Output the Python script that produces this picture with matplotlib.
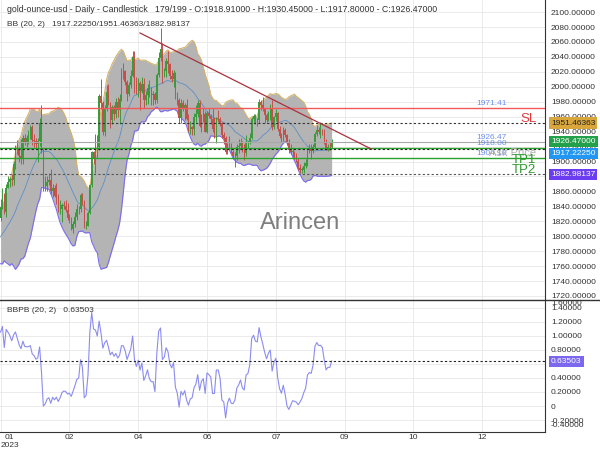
import numpy as np
import pandas as pd
import matplotlib
matplotlib.use("Agg")
import matplotlib.pyplot as plt
from matplotlib.lines import Line2D
from matplotlib.ticker import FuncFormatter

plt.rcParams['font.family'] = ['Liberation Sans', 'DejaVu Sans']

# closes before the first visible bar (only feed the 20-bar bands)
warmup_close = [1797, 1768, 1771, 1786, 1789, 1797, 1781, 1810, 1807, 1777,
                1793, 1788, 1817, 1814, 1792, 1798, 1814, 1804, 1815, 1824]

close = [1839, 1855, 1833, 1865, 1872, 1877, 1875, 1897, 1920, 1916,
         1908, 1904, 1932, 1926, 1931, 1937, 1946, 1929, 1928, 1923,
         1928, 1951, 1912, 1865, 1867, 1873, 1875, 1861, 1865, 1854,
         1853, 1836, 1836, 1842, 1841, 1835, 1825, 1822, 1810, 1817,
         1826, 1836, 1836, 1855, 1846, 1813, 1814, 1831, 1868, 1913,
         1904, 1918, 1919, 1988, 1978, 1940, 1970, 1993, 1978, 1956,
         1973, 1964, 1980, 1969, 1984, 2020, 2021, 2007, 1990, 2003,
         2014, 2040, 2004, 1995, 2005, 1994, 2004, 1983, 1989, 1998,
         1990, 1989, 1990, 1983, 2016, 2039, 2050, 2017, 2021, 2034,
         2031, 2015, 2011, 2018, 1990, 1982, 1958, 1978, 1971, 1975,
         1957, 1941, 1946, 1943, 1959, 1963, 1978, 1948, 1961, 1963,
         1940, 1965, 1961, 1957, 1943, 1942, 1958, 1957, 1951, 1936,
         1932, 1913, 1921, 1923, 1913, 1907, 1908, 1919, 1921, 1925,
         1915, 1911, 1925, 1925, 1932, 1957, 1961, 1955, 1955, 1979,
         1975, 1970, 1962, 1955, 1965, 1972, 1946, 1959, 1965, 1944,
         1934, 1933, 1942, 1936, 1925, 1915, 1913, 1913, 1907, 1901,
         1891, 1889, 1889, 1894, 1898, 1915, 1917, 1914, 1920, 1937,
         1942, 1940, 1940, 1938, 1926, 1916, 1919, 1918.91, 1926.47]

high = [1850, 1865, 1858, 1870, 1881, 1879, 1883, 1901, 1922, 1929,
        1920, 1930, 1935, 1937, 1936, 1942, 1949, 1949, 1937, 1932,
        1932, 1958, 1975, 1918, 1880, 1880, 1884, 1890, 1870, 1869,
        1871, 1856, 1848, 1845, 1847, 1848, 1845, 1830, 1826, 1820,
        1833, 1843, 1840, 1858, 1858, 1849, 1821, 1834, 1870, 1914,
        1914, 1937, 1936, 1990, 2010, 1981, 1975, 2003, 2004, 1979,
        1975, 1976, 1985, 1987, 1990, 2025, 2032, 2023, 2009, 2006,
        2022, 2048, 2048, 2013, 2012, 2008, 2013, 2012, 1994, 2004,
        2009, 2000, 1995, 1993, 2019, 2047, 2079, 2058, 2025, 2038,
        2048, 2032, 2022, 2022, 2020, 1993, 1985, 1984, 1983, 1978,
        1984, 1963, 1954, 1948, 1965, 1975, 1983, 1983, 1964, 1972,
        1967, 1967, 1971, 1963, 1971, 1959, 1960, 1969, 1959, 1953,
        1940, 1934, 1925, 1934, 1925, 1916, 1913, 1923, 1930, 1931,
        1928, 1923, 1935, 1928, 1938, 1960, 1963, 1964, 1958, 1984,
        1982, 1987, 1971, 1965, 1968, 1977, 1982, 1961, 1970, 1966,
        1947, 1938, 1946, 1945, 1937, 1930, 1923, 1918, 1914, 1911,
        1905, 1896, 1893, 1899, 1903, 1918, 1923, 1923, 1924, 1939,
        1949, 1946, 1953, 1943, 1943, 1930, 1923, 1926, 1930.45]

low = [1820, 1836, 1830, 1826, 1865, 1866, 1867, 1868, 1890, 1910,
       1900, 1897, 1897, 1922, 1920, 1924, 1930, 1922, 1920, 1917,
       1900, 1921, 1911, 1861, 1861, 1860, 1868, 1857, 1853, 1852,
       1843, 1832, 1830, 1819, 1837, 1832, 1822, 1818, 1808, 1804,
       1812, 1822, 1830, 1832, 1842, 1811, 1809, 1814, 1830, 1866,
       1897, 1885, 1905, 1916, 1970, 1935, 1934, 1968, 1975, 1945,
       1950, 1956, 1958, 1960, 1950, 1981, 2010, 2003, 1981, 1988,
       1999, 2013, 1992, 1991, 1987, 1969, 1992, 1972, 1975, 1977,
       1986, 1975, 1976, 1977, 1978, 2013, 2035, 2005, 2013, 2013,
       2019, 2011, 2006, 2000, 1984, 1975, 1952, 1952, 1968, 1956,
       1955, 1940, 1937, 1936, 1935, 1953, 1959, 1946, 1939, 1953,
       1939, 1938, 1958, 1950, 1940, 1932, 1925, 1953, 1947, 1932,
       1923, 1910, 1910, 1918, 1911, 1903, 1893, 1902, 1912, 1918,
       1913, 1902, 1907, 1918, 1923, 1930, 1953, 1950, 1948, 1952,
       1969, 1967, 1952, 1953, 1954, 1955, 1942, 1943, 1954, 1941,
       1932, 1926, 1928, 1933, 1922, 1912, 1910, 1906, 1903, 1899,
       1889, 1884, 1885, 1884, 1891, 1894, 1912, 1903, 1911, 1917,
       1934, 1937, 1931, 1935, 1924, 1915, 1914, 1915, 1917.80]

# levels of the signal
sl_level = 1971.41
entry_level = 1918.00
tp1_level = 1904.10
last_price = 1926.47
bb_mid_last = 1917.22250
bb_upper_last = 1951.46363
bb_lower_last = 1882.98137
bbpb_last = 0.63503

# trend line anchors (bar, price)
trend_bars = [75, 199.5]
trend_prices = [2072, 1916.5]

month_labels = ['01\n2023', '02', '04', '06', '07', '09', '10', '12']

# colours
green = '#3b9a3b'
red = '#c4504c'

# bollinger bands (20, 2) and %B
s = pd.Series(warmup_close + close, dtype=float)
mid = s.rolling(20).mean().to_numpy()[20:]
sd = s.rolling(20).std(ddof=0).to_numpy()[20:]
upper = mid + 2 * sd
lower = mid - 2 * sd

c = np.array(close, dtype=float)
o = np.array([warmup_close[-1]] + close[:-1], dtype=float)
h = np.array(high, dtype=float)
lo = np.array(low, dtype=float)
pb = (c - lower) / (upper - lower)
x = np.arange(len(c))

fig = plt.figure(figsize=(6, 4.5), dpi=100)
ax = fig.add_axes([0, 1 - 300 / 450, 545 / 600, 300 / 450])
ax2 = fig.add_axes([0, 1 - 432 / 450, 545 / 600, 132 / 450], sharex=ax)

# ---- price panel
ax.fill_between(x, lower, upper, color='#b4b4b4', lw=0, zorder=1)
ax.plot(x, upper, color='#d6b36a', lw=0.8, zorder=2)
ax.plot(x, lower, color='#7b6cf0', lw=0.8, zorder=2)
ax.plot(x, mid, color='#5b8fc7', lw=0.6, zorder=2)

up = c >= o
cols = np.where(up, green, red)
ax.vlines(x, lo, h, colors=cols, lw=0.7, zorder=3)
body = np.maximum(np.abs(c - o), 0.6)
ax.bar(x, body, bottom=np.minimum(o, c), width=0.75, color=cols, lw=0, zorder=4)

ax.axhline(sl_level, color='#f05a5a', lw=1.0, zorder=5)
ax.axhline(bb_upper_last, color='#333333', lw=0.8, ls=(0, (2, 2)), zorder=5)
ax.axhline(last_price, color='#a8a8a8', lw=0.8, zorder=5)
ax.axhline(entry_level, color='#2ca02c', lw=1.0, zorder=5)
ax.axhline(bb_mid_last, color='#222222', lw=0.8, ls=(0, (2, 2)), zorder=6)
ax.axhline(tp1_level, color='#2ca02c', lw=1.0, zorder=5)
ax.axhline(bb_lower_last, color='#555555', lw=0.8, ls=(0, (2, 2)), zorder=5)

ax.plot(trend_bars, trend_prices, color='#a8323e', lw=0.9, zorder=6)

label_bar = 264
for v in [sl_level, last_price, entry_level, tp1_level]:
    ax.text(label_bar, v + 1.5, f'{v:.2f}', color='#6f8ff0', fontsize=6,
            ha='center', va='bottom', zorder=7)

ax.text(288, 1956.5, 'SL', color='#e03c3c', fontsize=9.5, ha='right', va='center', zorder=7)
ax.text(288, 1911.5, 'Ask Price', color='#b0b0b0', fontsize=8, ha='right', va='center', zorder=7)
ax.text(288, 1902.5, 'TP1', color='#2e9a2e', fontsize=9.5, ha='right', va='center', zorder=7)
ax.text(288, 1889, 'TP2', color='#2e9a2e', fontsize=9.5, ha='right', va='center', zorder=7)

ax.set_xlim(-0.3, 292.7)
ax.set_ylim(1714.6, 2116.2)
ax.set_yticks(np.arange(1720, 2101, 20))
ax.yaxis.tick_right()
ax.yaxis.set_major_formatter(FuncFormatter(lambda v, p: f'{v:.5f}'))
ax.tick_params(axis='y', length=0, pad=4.3, labelsize=6, labelcolor='#333333')
ax.tick_params(axis='x', length=0, labelbottom=False)
ax.grid(True, color='#e8e8e8', lw=0.6, zorder=0)
ax.set_axisbelow(True)
for side in ['top', 'left', 'bottom']:
    ax.spines[side].set_visible(False)
ax.spines['right'].set_color('#333333')

ax.annotate('2120.00000', xy=(1, 2120), xycoords=ax.get_yaxis_transform(),
            xytext=(4.3, 0), textcoords='offset points', fontsize=6,
            color='#333333', va='center', annotation_clip=False)


def tag(axis, value, text, fc, tc, dy=0):
    axis.annotate(text, xy=(1, value), xycoords=axis.get_yaxis_transform(),
                  xytext=(4.3, dy), textcoords='offset points', fontsize=6,
                  color=tc, va='center', ha='left', annotation_clip=False, zorder=10,
                  bbox=dict(boxstyle='square,pad=0.25', fc=fc, ec='none'))


tag(ax, bb_upper_last, f'{bb_upper_last:.5f}', '#d9a63c', '#222222')
tag(ax, last_price, f'{last_price:.5f}', '#23a04a', 'white')
tag(ax, bb_mid_last, f'{bb_mid_last:.5f}', '#2196f3', 'white', dy=-3.7)
tag(ax, bb_lower_last, f'{bb_lower_last:.5f}', '#6b3cf2', 'white')

# ---- %B panel
ax2.plot(x, pb, color='#8c8cf0', lw=0.8, zorder=3)
ax2.axhline(bbpb_last, color='#222222', lw=0.8, ls=(0, (2, 2)), zorder=4)
ax2.set_ylim(-0.37, 1.51)
ax2.set_yticks(np.round(np.arange(-0.2, 1.41, 0.2), 1))
ax2.yaxis.tick_right()
ax2.yaxis.set_major_formatter(FuncFormatter(lambda v, p: '0' if abs(v) < 1e-9 else f'{v:.5f}'))
ax2.tick_params(axis='y', length=0, pad=4.3, labelsize=6, labelcolor='#333333')
ax2.set_xticks(np.arange(0, 260, 37))
ax2.set_xticklabels(month_labels)
ax2.tick_params(axis='x', length=0, pad=1.5, labelsize=6, labelcolor='#333333')
ax2.get_xticklabels()[0].set_ha('left')
ax2.get_xticklabels()[0].set_multialignment('center')
ax2.grid(True, color='#e8e8e8', lw=0.6, zorder=0)
ax2.set_axisbelow(True)
for side in ['top', 'left']:
    ax2.spines[side].set_visible(False)
ax2.spines['right'].set_color('#333333')
ax2.spines['bottom'].set_color('#333333')

# edge labels that sit past the panel limits
for ypos, txt in [(0.977, '1.60000'), (0.053, '-0.40000')]:
    ax2.annotate(txt, xy=(1, ypos), xycoords='axes fraction', xytext=(4.3, 0),
                 textcoords='offset points', fontsize=6, color='#333333',
                 va='center', annotation_clip=False)
tag(ax2, bbpb_last, f'{bbpb_last:.5f}', '#7b68ee', 'white')

# panel separator across the full width
fig.add_artist(Line2D([0, 1], [1 - 300 / 450] * 2, transform=fig.transFigure,
                      color='#333333', lw=1))

# headers and watermark
fig.text(7 / 600, 1 - 9 / 450,
         'gold-ounce-usd - Daily - Candlestick   179/199 - O:1918.91000 - '
         'H:1930.45000 - L:1917.80000 - C:1926.47000',
         fontsize=6.3, color='#333333', va='center')
fig.text(7 / 600, 1 - 25 / 450,
         f'BB (20, 2)   {bb_mid_last:.5f}/{bb_upper_last:.5f}/{bb_lower_last:.5f}',
         fontsize=6, color='#333333', va='center')
fig.text(7 / 600, 1 - 311 / 450, f'BBPB (20, 2)   {bbpb_last:.5f}',
         fontsize=6, color='#333333', va='center')
fig.text(300 / 600, 1 - 223 / 450, 'Arincen', fontsize=17, color='#7f7f7f',
         ha='center', va='center')

fig.savefig('out.png', dpi=100)
